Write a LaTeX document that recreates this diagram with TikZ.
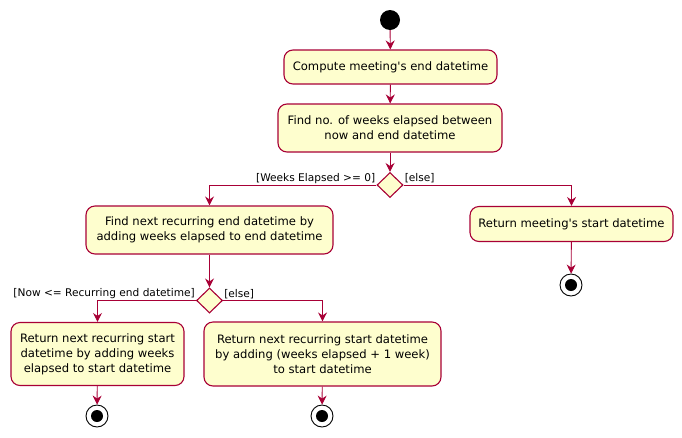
\documentclass[tikz,border=0pt]{standalone}
\usepackage{fontspec}
\setmainfont{DejaVu Sans}[Ligatures=TeXOff]
\usetikzlibrary{arrows.meta,shapes.geometric}
\definecolor{bord}{HTML}{A80036}
\definecolor{fillc}{HTML}{FEFECE}
\tikzset{
  act/.style={draw=bord, fill=fillc, line width=1.1pt, rounded corners=9pt,
    align=center, inner sep=0pt, font=\fontsize{11.6}{15}\selectfont},
  dec/.style={diamond, draw=bord, fill=fillc, line width=1.1pt, inner sep=0pt,
    minimum width=26pt, minimum height=25pt},
  flow/.style={draw=bord, line width=0.9pt, -{Stealth[length=9pt,width=9pt,inset=3pt]}},
  lbl/.style={font=\fontsize{10.6}{12}\selectfont, inner sep=1pt},
  startnode/.style={circle, fill=black, minimum size=20pt, inner sep=0pt},
  endnode/.style={circle, draw=black, fill=white, line width=0.9pt, minimum size=22pt, inner sep=0pt,
    path picture={\fill[black] (path picture bounding box.center) circle (6pt);}}
}
\begin{document}
\begin{tikzpicture}[x=1pt, y=-1pt]
\useasboundingbox (0,0) rectangle (682,437);
\node[startnode] (start) at (390,20) {};
\node[act, minimum width=213pt, minimum height=34pt] (b1) at (390.5,67) {Compute meeting's end datetime};
\node[act, minimum width=224pt, minimum height=48pt] (b2) at (390,128) {Find no. of weeks elapsed between\\now and end datetime};
\node[dec] (d1) at (390,185) {};
\node[act, minimum width=247pt, minimum height=48pt] (b3) at (209.5,230) {Find next recurring end datetime by\\adding weeks elapsed to end datetime};
\node[act, minimum width=203pt, minimum height=35pt] (b4) at (571.5,224) {Return meeting's start datetime};
\node[endnode] (e4) at (571,285) {};
\node[dec] (d2) at (209.5,300.5) {};
\node[act, minimum width=173pt, minimum height=63pt] (b5) at (97.5,354) {Return next recurring start\\datetime by adding weeks\\elapsed to start datetime};
\node[act, minimum width=237pt, minimum height=64pt] (b6) at (322.5,354) {Return next recurring start datetime\\by adding (weeks elapsed + 1 week)\\to start datetime};
\node[endnode] (e5) at (97,416) {};
\node[endnode] (e6) at (322,416) {};

\draw[flow] (start) -- (b1);
\draw[flow] (b1) -- (b2);
\draw[flow] (b2) -- (d1);
\draw[flow] (d1.west) -| (b3.north);
\draw[flow] (d1.east) -| (b4.north);
\draw[flow] (b3) -- (d2);
\draw[flow] (b4) -- (e4);
\draw[flow] (d2.west) -| (b5.north);
\draw[flow] (d2.east) -| (b6.north);
\draw[flow] (b5) -- (e5);
\draw[flow] (b6) -- (e6);

\node[lbl, anchor=south east] (l1) at ([yshift=0.5pt]d1.west) {[Weeks Elapsed >= 0]};
\node[lbl, anchor=south west] (l2) at ([yshift=0.5pt]d1.east) {[else]};
\node[lbl, anchor=south east] (l3) at ([yshift=0.5pt]d2.west) {[Now <= Recurring end datetime]};
\node[lbl, anchor=south west] (l4) at ([yshift=0.5pt]d2.east) {[else]};
\end{tikzpicture}
\end{document}
